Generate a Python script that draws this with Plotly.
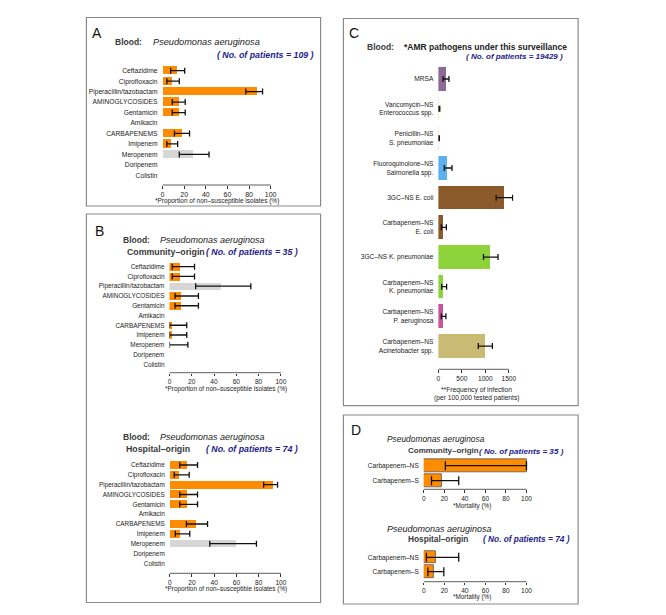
import plotly.graph_objects as go

PAGE_W, PAGE_H = 666, 615
BODY = 8  # default page body margin
W, H = PAGE_W - 2 * BODY, PAGE_H - 2 * BODY
FONT = "Liberation Sans, Arial, Helvetica, sans-serif"

# ---------------- data ----------------
antibiotics = ["Ceftazidime", "Ciprofloxacin", "Piperacillin/tazobactam", "AMINOGLYCOSIDES",
               "Gentamicin", "Amikacin", "CARBAPENEMS", "Imipenem", "Meropenem",
               "Doripenem", "Colistin"]

A_val = [13, 8.5, 87, 14.5, 14.5, None, 17.5, 7, 27.5, None, None]
A_lo = [7.5, 4, 77, 9, 9, None, 11, 4, 15.5, None, None]
A_hi = [20.5, 15.5, 92.5, 21, 21, None, 25, 14, 43, None, None]
A_lowcount = ["Meropenem"]

Bc_val = [9.5, 9.5, 47, 11, 11, None, 3, 3, 0, None, None]
Bc_lo = [2.5, 2.5, 23.5, 5, 5, None, 0, 0, 0, None, None]
Bc_hi = [22.5, 22.5, 73, 26, 26, None, 15.5, 15.5, 16.5, None, None]
Bc_lowcount = ["Piperacillin/tazobactam"]

Bh_val = [15, 8, 92.5, 15, 15, None, 23, 9, 59, None, None]
Bh_lo = [9, 4, 84.5, 9, 9, None, 15, 5, 36, None, None]
Bh_hi = [25, 17.5, 97, 25, 25, None, 34, 18, 78, None, None]
Bh_lowcount = ["Meropenem"]

pathogens = ["MRSA", "Vancomycin–NS<br>Enterococcus spp.", "Penicillin–NS<br>S. pneumoniae",
             "Fluoroquinolone–NS<br>Salmonella spp.", "3GC–NS E. coli", "Carbapenem–NS<br>E. coli",
             "3GC–NS K. pneumoniae", "Carbapenem–NS<br>K. pneumoniae",
             "Carbapenem–NS<br>P. aeruginosa", "Carbapenem–NS<br>Acinetobacter spp."]
C_val = [160, 15, 8, 195, 1400, 105, 1105, 110, 100, 1005]
C_lo = [100, 5, 2, 125, 1230, 62, 960, 70, 62, 850]
C_hi = [225, 30, 20, 290, 1580, 170, 1270, 175, 160, 1150]
C_colors = ["#8E6A96", "#F5DEB3", "#F2DCDC", "#5CB0EE", "#8B5A2B", "#8B5A2B",
            "#8FD33A", "#8FD33A", "#C8559A", "#C9BB73"]

carb_groups = ["Carbapenem–NS", "Carbapenem–S"]
Dc_val = [100, 18]
Dc_lo = [21, 7.5]
Dc_hi = [100, 34]
Dh_val = [12, 9.5]
Dh_lo = [2.5, 4]
Dh_hi = [34, 19.5]

pct_ticks = [0, 20, 40, 60, 80, 100]
freq_ticks = [0, 500, 1000, 1500]

ORANGE = "#FF8C00"
GRAY = "#D6D6D6"


def X(px):
    return (px - BODY) / W


def Y(py):
    return 1 - (py - BODY) / H


fig = go.Figure()
shapes = []
annotations = []
layout_axes = {}


def panel(n, cats, vals, lo, hi, colors, x0px, x1px, vmax, rmax, ticks,
          y1, d, ybot, tickfont=6.6, labfont=6.6, barw=0.8, capw=3, barline=None,
          standoff=4):
    xa = "x" if n == 1 else f"x{n}"
    ya = "y" if n == 1 else f"y{n}"
    scale = (x1px - x0px) / vmax
    dom_x = [X(x0px), X(x0px + rmax * scale)]
    ytop = y1 - d / 2 - 1
    dom_y = [Y(ybot), Y(ytop)]
    rng_y = [(ybot - y1) / d, (ytop - y1) / d]
    fig.add_trace(go.Bar(
        x=vals, y=cats, orientation="h", xaxis=xa, yaxis=ya, width=barw,
        marker=dict(color=colors,
                    line=dict(width=0.8 if barline else 0, color=barline or "rgba(0,0,0,0)")),
        hoverinfo="skip", showlegend=False))
    ex, ey, ep, em = [], [], [], []
    for c, v, l, h in zip(cats, vals, lo, hi):
        if v is None or l is None or h is None:
            continue
        ex.append(v); ey.append(c); ep.append(h - v); em.append(v - l)
    fig.add_trace(go.Scatter(
        x=ex, y=ey, mode="markers", xaxis=xa, yaxis=ya,
        marker=dict(size=1, color="rgba(0,0,0,0)"),
        error_x=dict(type="data", symmetric=False, array=ep, arrayminus=em,
                     color="#111111", thickness=1.3, width=capw),
        hoverinfo="skip", showlegend=False, cliponaxis=False))
    key = "xaxis" if n == 1 else f"xaxis{n}"
    ykey = "yaxis" if n == 1 else f"yaxis{n}"
    layout_axes[key] = dict(domain=dom_x, range=[0, rmax], anchor=ya,
                            showgrid=False, zeroline=False, showline=False,
                            ticks="outside", ticklen=2.5, tickwidth=0.8, tickcolor="#333",
                            tickvals=ticks, tickfont=dict(size=tickfont, color="#222", family=FONT),
                            fixedrange=True)
    layout_axes[ykey] = dict(domain=dom_y, range=rng_y, anchor=xa, type="category",
                             categoryorder="array", categoryarray=cats,
                             showgrid=False, zeroline=False, showline=False, ticks="",
                             ticklabelstandoff=standoff,
                             tickfont=dict(size=labfont, color="#222", family=FONT),
                             fixedrange=True)
    shapes.append(dict(type="line", xref=xa, yref="paper", x0=0, x1=ticks[-1],
                       y0=Y(ybot), y1=Y(ybot), line=dict(color="#333", width=0.8)))


def colors_for(cats, vals, low):
    return [GRAY if c in low else ORANGE for c in cats]


# Panel A
panel(1, antibiotics, A_val, A_lo, A_hi, colors_for(antibiotics, A_val, A_lowcount),
      161.7, 270.7, 100, 103, pct_ticks, 70.7, 10.46, 185, tickfont=7, labfont=6.7)
# Panel B community
panel(2, antibiotics, Bc_val, Bc_lo, Bc_hi, colors_for(antibiotics, Bc_val, Bc_lowcount),
      168.7, 281, 100, 103, pct_ticks, 266.7, 9.76, 372.7, labfont=6.4)
# Panel B hospital
panel(3, antibiotics, Bh_val, Bh_lo, Bh_hi, colors_for(antibiotics, Bh_val, Bh_lowcount),
      169, 281, 100, 103, pct_ticks, 465, 9.83, 573.3, labfont=6.4)
# Panel C
panel(4, pathogens, C_val, C_lo, C_hi, C_colors,
      439.7, 510.7, 1500, 1600, freq_ticks, 79, 29.67, 369.3, labfont=6.6)
# Panel D community
panel(5, carb_groups, Dc_val, Dc_lo, Dc_hi, [ORANGE, ORANGE],
      425, 528.5, 100, 103, pct_ticks, 465.7, 15, 489.3, labfont=6.6, barw=0.85,
      capw=4.5, barline="#555")
# Panel D hospital
panel(6, carb_groups, Dh_val, Dh_lo, Dh_hi, [ORANGE, ORANGE],
      425, 528.5, 100, 103, pct_ticks, 557.3, 14.4, 581.7, labfont=6.6, barw=0.85,
      capw=4.5, barline="#555")

# panel boxes
for (x0, y0, x1, y1) in [(85, 17.5, 321, 206), (85, 214, 321, 602.5),
                         (344, 18.5, 580.5, 405.7), (344, 415, 580.5, 604)]:
    shapes.append(dict(type="rect", xref="paper", yref="paper",
                       x0=X(x0), x1=X(x1), y0=Y(y0), y1=Y(y1),
                       line=dict(color="#8a8a8a", width=1.2)))


def txt(s, x, y, size, color="#222", anchor="left", bold=False, italic=False):
    if bold:
        s = f"<b>{s}</b>"
    if italic:
        s = f"<i>{s}</i>"
    annotations.append(dict(text=s, x=X(x), y=Y(y), xref="paper", yref="paper",
                            xanchor=anchor, yanchor="middle", showarrow=False,
                            font=dict(size=size, color=color, family=FONT)))


NAVY = "#22228A"
HDR = "#3a3a3a"

# letters
txt("A", 96, 33.3, 14, "#111", "center")
txt("B", 98, 231, 14, "#111", "center")
txt("C", 355, 32.5, 14, "#111", "center")
txt("D", 356.7, 430, 14, "#111", "center")

# A header
txt("Blood:", 112, 42, 8.5, HDR, bold=True)
txt("Pseudomonas aeruginosa", 150, 42, 9.2, "#222", italic=True)
txt("( No. of patients = 109 )", 215, 55, 8.8, NAVY, bold=True, italic=True)
txt("*Proportion of non–susceptible isolates (%)", 216.5, 200.7, 6.5, "#222", "center")

# B community header
txt("Blood:", 120, 240, 8.5, HDR, bold=True)
txt("Pseudomonas aeruginosa", 157, 240, 9.0, "#222", italic=True)
txt("Community–origin", 124, 251.7, 8.8, HDR, bold=True)
txt("( No. of patients = 35 )", 204, 252, 8.8, NAVY, bold=True, italic=True)
txt("*Proportion of non–susceptible isolates (%)", 225.2, 389.3, 6.4, "#222", "center")

# B hospital header
txt("Blood:", 120, 437, 8.5, HDR, bold=True)
txt("Pseudomonas aeruginosa", 157, 437, 9.0, "#222", italic=True)
txt("Hospital–origin", 123, 449, 8.8, HDR, bold=True)
txt("( No. of patients = 74 )", 204, 449, 8.8, NAVY, bold=True, italic=True)
txt("*Proportion of non–susceptible isolates (%)", 225.8, 589, 6.4, "#222", "center")

# C header
txt("Blood:", 366, 46.7, 8.5, HDR, bold=True)
txt("*AMR pathogens under this surveillance", 402.7, 46.7, 8.5, "#222", bold=True)
txt("( No. of patients = 19429 )", 466, 56.5, 8.0, NAVY, bold=True, italic=True)
txt("**Frequency of infection", 478, 390, 6.7, "#222", "center")
txt("(per 100,000 tested patients)", 478.7, 397.7, 6.7, "#222", "center")

# D community
txt("Pseudomonas aeruginosa", 386, 439, 8.4, "#222", italic=True)
txt("Community–origin", 407, 450.7, 8.0, HDR, bold=True)
txt("( No. of patients = 35 )", 479, 451, 8.1, NAVY, bold=True, italic=True)
txt("*Mortality (%)", 474, 505.7, 6.4, "#222", "center")

# D hospital
txt("Pseudomonas aeruginosa", 386, 529, 9.0, "#222", italic=True)
txt("Hospital–origin", 406.7, 539, 8.3, HDR, bold=True)
txt("( No. of patients = 74 )", 483, 539, 8.3, NAVY, bold=True, italic=True)
txt("*Mortality (%)", 474, 596.7, 6.4, "#222", "center")

fig.update_layout(width=W, height=H, autosize=False,
                  margin=dict(l=0, r=0, t=0, b=0, pad=0),
                  paper_bgcolor="white", plot_bgcolor="white",
                  font=dict(family=FONT), showlegend=False, bargap=0,
                  shapes=shapes, annotations=annotations, **layout_axes)

fig.write_html("out.html")
